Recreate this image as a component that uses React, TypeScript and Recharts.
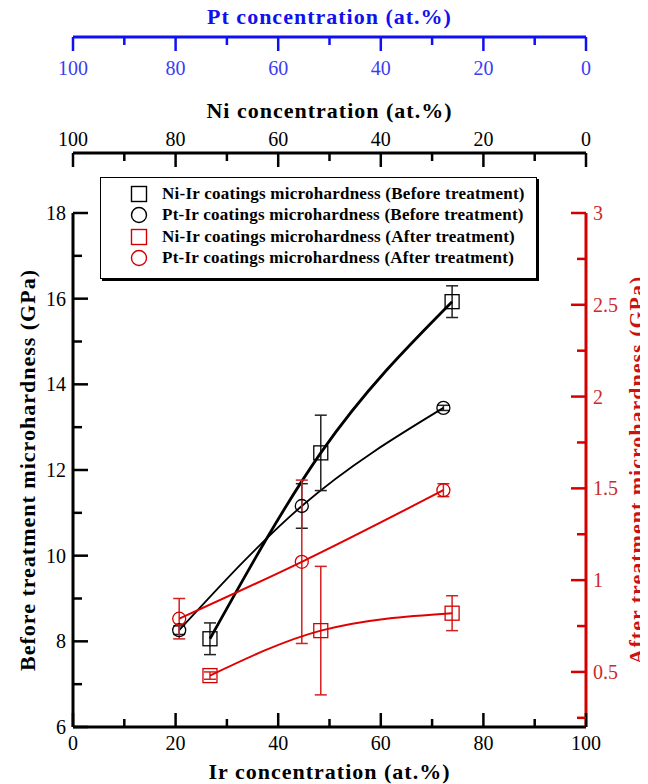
import React from 'react';
import { ComposedChart, Line, XAxis, YAxis, ErrorBar, Legend } from 'recharts';

const FONT = '"Liberation Serif", "Times New Roman", serif';
const RED = '#d40000';
const RED_TEXT = '#cc2a2a';
const BLUE = '#1010f0';
const BLUE_TEXT = '#3c3cf5';

// tick positions
const concTicks = [0, 10, 20, 30, 40, 50, 60, 70, 80, 90, 100];
const beforeTicks = [6, 7, 8, 9, 10, 11, 12, 13, 14, 15, 16, 17, 18];
const afterTicks = [0.25, 0.5, 0.75, 1, 1.25, 1.5, 1.75, 2, 2.25, 2.5, 2.75, 3];

// Ir concentration (at.%) of each coating
const irNiIr = [26.7, 48.3, 73.9];
const irPtIr = [20.7, 44.6, 72.2];

// microhardness before treatment (GPa, left axis)
const niIrBefore = [8.06, 12.4, 15.93];
const niIrBeforeErr = [0.37, 0.88, 0.37];
const ptIrBefore = [8.26, 11.16, 13.45];
const ptIrBeforeErr = [0.1, 0.52, 0.06];

// microhardness after treatment (GPa, right axis)
const niIrAfter = [0.48, 0.725, 0.82];
const niIrAfterErr = [0.02, 0.35, 0.095];
const ptIrAfter = [0.79, 1.1, 1.49];
const ptIrAfterErr = [0.11, 0.445, 0.035];

const legendItems = [
  { name: 'Ni-Ir coatings microhardness (Before treatment)', color: '#000', shape: 'square' },
  { name: 'Pt-Ir coatings microhardness (Before treatment)', color: '#000', shape: 'circle' },
  { name: 'Ni-Ir coatings microhardness (After treatment)', color: RED, shape: 'square' },
  { name: 'Pt-Ir coatings microhardness (After treatment)', color: RED, shape: 'circle' },
];

const toRows = (xs: number[], ys: number[], errs: number[]) =>
  xs.map((x, i) => ({ x, y: ys[i], err: errs[i] }));

const niBeforeData = toRows(irNiIr, niIrBefore, niIrBeforeErr);
const ptBeforeData = toRows(irPtIr, ptIrBefore, ptIrBeforeErr);
const niAfterData = toRows(irNiIr, niIrAfter, niIrAfterErr);
const ptAfterData = toRows(irPtIr, ptIrAfter, ptIrAfterErr);

// horizontal axis tick: dir 1 = tick hangs down, -1 = tick points up
const hTick = (color: string, textColor: string, dir: number, labelDy: number) => (p: any) => {
  const v = p.payload.value;
  const major = v % 20 === 0;
  return (
    <g key={`t-${v}`}>
      <line x1={p.x} x2={p.x} y1={p.y} y2={p.y + dir * (major ? 14 : 8)} stroke={color} strokeWidth={2.5} />
      {major && (
        <text x={p.x} y={p.y + labelDy} textAnchor="middle" fill={textColor} fontSize={20} fontFamily={FONT}>
          {v}
        </text>
      )}
    </g>
  );
};

// vertical axis tick: side -1 = left axis, 1 = right axis
const vTick = (color: string, textColor: string, side: number, isMajor: (v: number) => boolean) => (p: any) => {
  const v = p.payload.value;
  const major = isMajor(v);
  return (
    <g key={`t-${v}`}>
      <line x1={p.x} x2={p.x - side * (major ? 15 : 9)} y1={p.y} y2={p.y} stroke={color} strokeWidth={2.5} />
      {major && (
        <text
          x={p.x + side * 7}
          y={p.y + 7}
          textAnchor={side < 0 ? 'end' : 'start'}
          fill={textColor}
          fontSize={20}
          fontFamily={FONT}
        >
          {v}
        </text>
      )}
    </g>
  );
};

const marker = (shape: string, color: string, size: number) => (p: any) => {
  if (p.cx == null || p.cy == null) return <g key={p.key} />;
  if (shape === 'square') {
    return (
      <rect key={p.key} x={p.cx - size / 2} y={p.cy - size / 2} width={size} height={size}
        fill="none" stroke={color} strokeWidth={1.3} />
    );
  }
  return <circle key={p.key} cx={p.cx} cy={p.cy} r={size / 2} fill="none" stroke={color} strokeWidth={1.3} />;
};

const LegendBox = () => (
  <div
    style={{
      border: '1.5px solid #000',
      boxShadow: '2px 2px 0 #000',
      background: '#fff',
      padding: '5px 0 9px 0',
      fontFamily: FONT,
      fontWeight: 'bold',
      fontSize: 17,
      letterSpacing: 0.25,
    }}
  >
    {legendItems.map((it) => (
      <div key={it.name} style={{ display: 'flex', alignItems: 'center', height: 21.5, whiteSpace: 'nowrap' }}>
        <svg width={18} height={18} style={{ marginLeft: 29, marginRight: 14 }}>
          {it.shape === 'square' ? (
            <rect x={1.5} y={1.5} width={15} height={15} fill="none" stroke={it.color} strokeWidth={1.4} />
          ) : (
            <circle cx={9} cy={9} r={7.5} fill="none" stroke={it.color} strokeWidth={1.4} />
          )}
        </svg>
        <span style={{ color: '#000' }}>{it.name}</span>
      </div>
    ))}
  </div>
);

const titleStyle = (fill: string) => ({
  fontFamily: FONT,
  fontWeight: 'bold',
  fontSize: 22,
  letterSpacing: 1,
  fill,
});

export default function App() {
  // pulled up over the body margin so the top title has room inside the svg
  return (
    <div style={{ width: 640, height: 784, marginTop: -8, fontFamily: FONT }}>
      <ComposedChart width={640} height={784} data={niBeforeData} margin={{ top: 8, right: 0, bottom: 0, left: 0 }}>
        <XAxis
          xAxisId="ir"
          dataKey="x"
          type="number"
          orientation="bottom"
          domain={[0, 100]}
          allowDataOverflow
          ticks={concTicks}
          interval={0}
          height={57}
          tickSize={0}
          tickMargin={0}
          tickLine={false}
          axisLine={{ stroke: '#000', strokeWidth: 3 }}
          tick={hTick('#000', '#000', -1, 23)}
          label={{ value: 'Ir concentration (at.%)', position: 'insideBottom', offset: 5, style: titleStyle('#000') }}
        />
        <XAxis
          xAxisId="gap"
          dataKey="x"
          type="number"
          orientation="top"
          domain={[0, 100]}
          allowDataOverflow
          height={60}
          tick={false}
          tickLine={false}
          axisLine={false}
        />
        <XAxis
          xAxisId="ni"
          dataKey="x"
          type="number"
          orientation="top"
          domain={[0, 100]}
          allowDataOverflow
          reversed
          ticks={concTicks}
          interval={0}
          height={116}
          tickSize={0}
          tickMargin={0}
          tickLine={false}
          axisLine={{ stroke: '#000', strokeWidth: 3 }}
          tick={hTick('#000', '#000', 1, -7)}
          label={{ value: 'Ni concentration (at.%)', position: 'insideTop', offset: 65, style: titleStyle('#000') }}
        />
        <XAxis
          xAxisId="pt"
          dataKey="x"
          type="number"
          orientation="top"
          domain={[0, 100]}
          allowDataOverflow
          reversed
          ticks={concTicks}
          interval={0}
          height={29}
          tickSize={0}
          tickMargin={0}
          tickLine={false}
          axisLine={{ stroke: BLUE, strokeWidth: 3 }}
          tick={hTick(BLUE, BLUE_TEXT, 1, 38)}
          label={{ value: 'Pt concentration (at.%)', position: 'insideTop', offset: 0, style: titleStyle(BLUE) }}
        />
        <YAxis
          yAxisId="before"
          orientation="left"
          type="number"
          domain={[6, 18]}
          allowDataOverflow
          ticks={beforeTicks}
          interval={0}
          width={65}
          tickSize={0}
          tickMargin={0}
          tickLine={false}
          axisLine={{ stroke: '#000', strokeWidth: 3 }}
          tick={vTick('#000', '#000', -1, (v) => v % 2 === 0)}
          label={{
            value: 'Before treatment microhardness (GPa)',
            angle: -90,
            position: 'insideLeft',
            offset: 19,
            style: { ...titleStyle('#000'), textAnchor: 'middle' },
          }}
        />
        <YAxis
          yAxisId="after"
          orientation="right"
          type="number"
          domain={[0.2, 3]}
          allowDataOverflow
          ticks={afterTicks}
          interval={0}
          width={62}
          tickSize={0}
          tickMargin={0}
          tickLine={false}
          axisLine={{ stroke: RED, strokeWidth: 3 }}
          tick={vTick(RED, RED_TEXT, 1, (v) => Math.abs(v * 2 - Math.round(v * 2)) < 1e-6)}
          label={{
            value: 'After treatment microhardness (GPa)',
            angle: -90,
            position: 'insideRight',
            offset: 12,
            style: { ...titleStyle('#cc1111'), textAnchor: 'middle' },
          }}
        />
        <Legend
          layout="vertical"
          align="center"
          verticalAlign="middle"
          content={<LegendBox />}
          wrapperStyle={{ position: 'absolute', left: 92, top: 177, right: 'auto', bottom: 'auto', width: 437 }}
        />
        <Line
          data={ptBeforeData}
          xAxisId="ir"
          yAxisId="before"
          dataKey="y"
          type="monotone"
          stroke="#000"
          strokeWidth={1.8}
          dot={marker('circle', '#000', 13)}
          activeDot={false}
          isAnimationActive={false}
        >
          <ErrorBar dataKey="err" direction="y" width={6} stroke="#222" strokeWidth={1.5} />
        </Line>
        <Line
          data={niBeforeData}
          xAxisId="ir"
          yAxisId="before"
          dataKey="y"
          type="monotone"
          stroke="#000"
          strokeWidth={2.8}
          dot={marker('square', '#000', 14)}
          activeDot={false}
          isAnimationActive={false}
        >
          <ErrorBar dataKey="err" direction="y" width={6} stroke="#222" strokeWidth={1.5} />
        </Line>
        <Line
          data={ptAfterData}
          xAxisId="ir"
          yAxisId="after"
          dataKey="y"
          type="monotone"
          stroke="#e00000"
          strokeWidth={2}
          dot={marker('circle', RED, 13)}
          activeDot={false}
          isAnimationActive={false}
        >
          <ErrorBar dataKey="err" direction="y" width={6} stroke="#d42020" strokeWidth={1.5} />
        </Line>
        <Line
          data={niAfterData}
          xAxisId="ir"
          yAxisId="after"
          dataKey="y"
          type="monotone"
          stroke="#e00000"
          strokeWidth={2}
          dot={marker('square', RED, 14)}
          activeDot={false}
          isAnimationActive={false}
        >
          <ErrorBar dataKey="err" direction="y" width={6} stroke="#d42020" strokeWidth={1.5} />
        </Line>
      </ComposedChart>
    </div>
  );
}
